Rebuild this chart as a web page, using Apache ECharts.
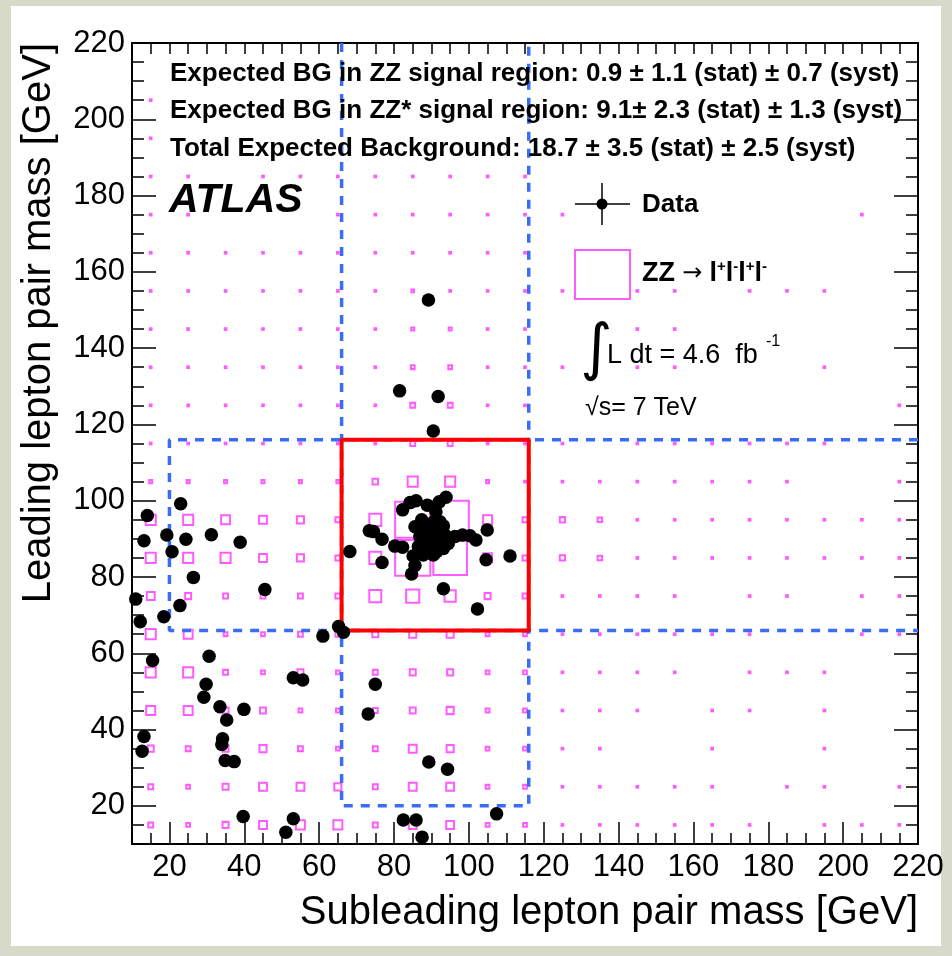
<!DOCTYPE html>
<html>
<head>
<meta charset="utf-8">
<script src="https://cdn.jsdelivr.net/npm/echarts@6/dist/echarts.min.js"></script>
<style>
  html, body { margin: 0; padding: 0; background: #d8dac9; }
  #panel { position: absolute; left: 11px; top: 6px; width: 930px; height: 940px; background: #ffffff; }
  #chart { position: absolute; left: 0; top: 0; width: 952px; height: 956px; }
</style>
</head>
<body>
<div id="panel"></div>
<div id="chart"></div>
<script>
// ---- axis ranges and ticks (GeV) ----
const massMin = 10;
const massMax = 220;
const labelValues = [20, 40, 60, 80, 100, 120, 140, 160, 180, 200, 220];
const majorTickValues = [20, 40, 60, 80, 100, 120, 140, 160, 180, 200];
const minorTickValues = [];
for (let v = 15; v <= 215; v += 5) minorTickValues.push(v);

// ---- ZZ -> 4l expectation: 10 GeV bins, relative bin content ----
const binCenters = [15, 25, 35, 45, 55, 65, 75, 85, 95, 105, 115, 125, 135, 145, 155, 165, 175, 185, 195, 205, 215];
// rows run from leading mass 215 GeV (top) down to 15 GeV (bottom); columns follow binCenters
const t = 0.045;
const zzContent = [
  /*215*/ [0, 0, 0, 0, 0, 0, 0, 0, 0, 0, 0, 0, 0, 0, 0, 0, 0, 0, 0, 0, 0],
  /*205*/ [t, 0, 0, 0, 0, 0, 0, 0, 0, 0, 0, 0, 0, 0, 0, 0, 0, 0, 0, 0, 0],
  /*195*/ [t, 0, 0, 0, 0, 0, 0, 0, 0, 0, 0, 0, 0, 0, 0, 0, 0, 0, 0, 0, 0],
  /*185*/ [t, t, 0, t, t, t, t, t, t, t, t, 0, 0, 0, 0, 0, 0, 0, 0, 0, 0],
  /*175*/ [t, t, 0, 0, 0, t, t, t, t, t, t, t, 0, 0, 0, 0, 0, 0, 0, t, 0],
  /*165*/ [t, t, t, t, t, t, t, t, t, t, t, 0, 0, 0, 0, 0, 0, 0, 0, 0, 0],
  /*155*/ [t, t, t, t, t, t, t, 0.07, t, t, t, t, 0, t, t, 0, t, t, t, 0, 0],
  /*145*/ [t, t, t, t, t, t, t, 0.08, 0.08, t, t, 0, 0, t, t, 0, 0, 0, 0, 0, 0],
  /*135*/ [t, t, t, t, t, t, t, 0.1, 0.1, t, t, t, 0, t, t, 0, 0, 0, t, 0, 0],
  /*125*/ [t, t, t, t, t, t, t, 0.13, 0.13, t, t, 0, 0, 0, 0, 0, 0, 0, 0, 0, t],
  /*115*/ [t, t, t, t, t, t, t, 0.13, 0.13, t, t, t, 0, t, t, t, t, t, t, 0, 0],
  /*105*/ [0.08, 0.08, 0.08, 0.08, 0.08, 0.08, 0.15, 0.27, 0.27, 0.08, t, t, t, t, t, t, t, t, 0, 0, t],
  /* 95*/ [0.27, 0.27, 0.24, 0.21, 0.19, 0.13, 0.32, 0.94, 1.0, 0.24, 0.13, 0.14, 0.12, t, t, t, t, t, t, t, t],
  /* 85*/ [0.27, 0.27, 0.27, 0.21, 0.19, 0.13, 0.32, 0.94, 0.9, 0.24, 0.13, 0.14, 0.12, t, t, t, t, t, t, t, t],
  /* 75*/ [0.21, 0.16, 0.13, 0.13, 0.13, 0.13, 0.32, 0.35, 0.3, 0.16, 0.13, t, t, t, t, 0, t, t, 0, t, t],
  /* 65*/ [0.27, 0.24, 0.1, 0.1, 0.13, 0.13, 0.16, 0.19, 0.19, 0.1, 0.1, t, t, t, t, t, t, 0, 0, t, t],
  /* 55*/ [0.27, 0.27, 0.13, 0.1, 0.16, 0.1, 0.13, 0.16, 0.16, 0.1, 0.1, t, t, t, t, 0, t, t, t, 0, 0],
  /* 45*/ [0.24, 0.24, 0.16, 0.16, 0.1, 0.1, 0.13, 0.16, 0.19, 0.1, 0.1, t, t, t, 0, t, t, 0, t, 0, 0],
  /* 35*/ [0.16, 0.13, 0.16, 0.19, 0.13, 0.1, 0.13, 0.21, 0.19, 0.1, 0.1, t, t, 0, 0, t, 0, 0, t, 0, 0],
  /* 25*/ [0.13, 0.1, 0.16, 0.21, 0.21, 0.19, 0.13, 0.21, 0.21, 0.1, 0.1, t, t, t, t, t, 0, t, t, 0, t],
  /* 15*/ [0.13, 0.1, 0.16, 0.21, 0.24, 0.24, 0.13, 0.21, 0.21, 0.1, 0.1, t, t, t, t, t, t, 0, t, t, t]
];

// ---- selected data events: subleading / leading lepton pair masses (GeV) ----
const subleadingMass = [
  89.2, 81.5, 91.8, 90.5,
  23.0, 14.1, 13.2, 19.3, 24.4, 20.7, 31.2, 38.9, 26.4, 45.5, 11.0, 22.8, 12.2, 18.5,
  61.0, 65.2, 66.5, 15.5, 30.6, 29.8, 29.2, 53.1, 55.6, 33.5, 35.3, 39.9, 13.2, 12.7,
  34.2, 34.0, 34.9, 37.3, 39.7, 53.1, 51.1, 75.0, 73.1, 89.3, 94.3, 82.5, 85.9, 87.5, 107.4,
  68.2, 73.4, 74.5, 76.8, 76.8, 80.2, 82.3, 82.3, 84.3, 85.9, 88.9, 91.2, 92.1, 93.9,
  104.9, 104.6, 111.0, 93.2, 102.3, 85.6, 89.6, 92.3, 86.9, 89.6, 91.8, 93.6, 86.5, 88.7,
  91.0, 93.2, 87.8, 90.5, 85.1, 85.6, 84.7, 96.3, 98.3, 100.3, 101.9, 90.3, 91.4, 88.7,
  93.2, 87.4, 90.0, 91.0, 88.0, 92.5, 89.2, 90.8, 94.5, 87.0
];
const leadingMass = [
  152.6, 128.8, 127.3, 118.3,
  99.2, 96.1, 89.5, 91.0, 89.9, 86.6, 91.1, 89.1, 79.9, 76.7, 74.2, 72.5, 68.3, 69.6,
  64.5, 67.0, 65.5, 58.1, 59.2, 51.9, 48.5, 53.6, 53.0, 46.0, 42.5, 45.3, 38.2, 34.3,
  37.6, 36.1, 31.9, 31.6, 17.2, 16.6, 13.1, 51.9, 44.1, 31.5, 29.6, 16.3, 16.3, 11.8, 17.9,
  86.7, 92.1, 91.9, 89.9, 83.8, 88.1, 87.8, 97.6, 99.5, 100.0, 98.8, 97.1, 99.7, 100.9,
  92.3, 84.5, 85.5, 76.9, 71.6, 93.2, 93.9, 94.5, 90.6, 91.0, 91.9, 91.0, 88.0, 88.0,
  88.4, 87.5, 85.8, 85.8, 85.5, 83.0, 80.8, 90.6, 91.0, 90.8, 89.7, 89.7, 86.6, 92.3,
  93.4, 95.0, 90.5, 92.8, 89.5, 89.0, 86.8, 94.6, 88.8, 92.5
];

// ---- signal region boundaries (GeV) ----
const zzLow = 66;
const zzHigh = 116;
const zzStarLow = 20;

// ---- layout ----
const plot = { left: 132, top: 43, width: 786, height: 801 };
const binPxX = 10 * plot.width / (massMax - massMin);
const binPxY = 10 * plot.height / (massMax - massMin);
const magenta = '#ff5cff';
const blue = '#3a6cf8';
const font = 'Liberation Sans';

const zzData = [];
zzContent.forEach((row, r) => {
  const yc = binCenters[binCenters.length - 1 - r];
  row.forEach((c, k) => { if (c > 0) zzData.push([binCenters[k], yc, c]); });
});
const eventData = subleadingMass.map((x, i) => [x, leadingMass[i]]);

function axisDef(kind, position, tickValues, tickLen, withLabels, withLine) {
  return {
    type: 'value', min: massMin, max: massMax, position: position,
    axisLine: { show: withLine, onZero: false, lineStyle: { color: '#000', width: 2 } },
    axisTick: { show: true, inside: true, length: tickLen, customValues: tickValues,
                lineStyle: { color: '#000', width: 1.5 } },
    axisLabel: withLabels
      ? { show: true, customValues: labelValues, color: '#000', fontSize: 31, fontFamily: font,
          margin: kind === 'x' ? 8 : 7 }
      : { show: false },
    splitLine: { show: false }
  };
}

function polyline(points, color, width, dash, z) {
  return {
    type: 'line', xAxisIndex: 0, yAxisIndex: 0, data: points, showSymbol: false, symbol: 'none',
    lineStyle: { color: color, width: width, type: dash }, z: z, silent: true, animation: false
  };
}

const chart = echarts.init(document.getElementById('chart'));
chart.setOption({
  animation: false,
  backgroundColor: 'transparent',
  grid: { left: plot.left, top: plot.top, width: plot.width, height: plot.height, containLabel: false },
  xAxis: [
    axisDef('x', 'bottom', majorTickValues, 22, true, true),
    axisDef('x', 'bottom', minorTickValues, 11, false, false),
    axisDef('x', 'top', minorTickValues, 11, false, true)
  ],
  yAxis: [
    axisDef('y', 'left', majorTickValues, 24, true, true),
    axisDef('y', 'left', minorTickValues, 12, false, false),
    axisDef('y', 'right', majorTickValues, 24, false, true),
    axisDef('y', 'right', minorTickValues, 12, false, false)
  ],
  series: [
    {
      type: 'scatter', xAxisIndex: 0, yAxisIndex: 0, data: zzData, symbol: 'rect',
      symbolSize: v => [Math.max(v[2] * binPxX, 1.5), Math.max(v[2] * binPxY, 1.5)],
      itemStyle: { color: 'rgba(0,0,0,0)', borderColor: magenta, borderWidth: 2, opacity: 1 },
      z: 2, silent: true
    },
    // ZZ* regions (blue dashed)
    polyline([[zzLow, massMax], [zzLow, zzStarLow], [zzHigh, zzStarLow], [zzHigh, massMax]], blue, 3.5, [9, 8], 3),
    polyline([[massMax, zzHigh], [zzStarLow, zzHigh], [zzStarLow, zzLow], [massMax, zzLow]], blue, 3.5, [9, 8], 3),
    // ZZ signal region (red)
    polyline([[zzLow, zzLow], [zzHigh, zzLow], [zzHigh, zzHigh], [zzLow, zzHigh], [zzLow, zzLow]], '#ff0000', 4, 'solid', 4),
    {
      type: 'scatter', xAxisIndex: 0, yAxisIndex: 0, data: eventData, symbol: 'circle', symbolSize: 13.5,
      itemStyle: { color: '#000', opacity: 1 }, z: 6, silent: true
    }
  ],
  graphic: [
    { type: 'text', x: 170, y: 74, z: 10,
      style: { text: 'Expected BG in ZZ signal region: 0.9 ± 1.1 (stat) ± 0.7 (syst)', fill: '#000',
               fontSize: 26, fontWeight: 'bold', fontFamily: font, align: 'left', verticalAlign: 'middle' } },
    { type: 'text', x: 170, y: 111, z: 10,
      style: { text: 'Expected BG in ZZ* signal region: 9.1± 2.3 (stat) ± 1.3 (syst)', fill: '#000',
               fontSize: 26, fontWeight: 'bold', fontFamily: font, align: 'left', verticalAlign: 'middle' } },
    { type: 'text', x: 170, y: 149, z: 10,
      style: { text: 'Total Expected Background: 18.7 ± 3.5 (stat) ± 2.5 (syst)', fill: '#000',
               fontSize: 26, fontWeight: 'bold', fontFamily: font, align: 'left', verticalAlign: 'middle' } },
    { type: 'text', x: 169, y: 201, z: 10,
      style: { text: 'ATLAS', fill: '#000', fontSize: 41, fontWeight: 'bold', fontStyle: 'italic',
               fontFamily: font, align: 'left', verticalAlign: 'middle' } },
    // legend: data marker
    { type: 'line', z: 10, shape: { x1: 575, y1: 204, x2: 630, y2: 204 }, style: { stroke: '#000', lineWidth: 1.5 } },
    { type: 'line', z: 10, shape: { x1: 602, y1: 183, x2: 602, y2: 225 }, style: { stroke: '#000', lineWidth: 1.5 } },
    { type: 'circle', z: 10, shape: { cx: 602, cy: 204, r: 5.5 }, style: { fill: '#000' } },
    { type: 'text', x: 642, y: 205, z: 10,
      style: { text: 'Data', fill: '#000', fontSize: 26, fontWeight: 'bold', fontFamily: font,
               align: 'left', verticalAlign: 'middle' } },
    // legend: ZZ box
    { type: 'rect', z: 10, shape: { x: 575, y: 250, width: 55, height: 49 },
      style: { fill: 'rgba(0,0,0,0)', stroke: magenta, lineWidth: 2 } },
    { type: 'text', x: 642, y: 274, z: 10,
      style: { text: '{b|ZZ} {a|→} {b|l}{s|+}{b|l}{s|-}{b|l}{s|+}{b|l}{s|-}', fill: '#000', fontFamily: font,
               fontSize: 26, align: 'left', verticalAlign: 'middle',
               rich: {
                 b: { fontSize: 27, fontWeight: 'bold', fontFamily: font, fill: '#000', lineHeight: 30 },
                 a: { fontSize: 24, fontFamily: 'DejaVu Sans', fill: '#000', lineHeight: 30 },
                 s: { fontSize: 15, fontWeight: 'bold', fontFamily: font, fill: '#000', verticalAlign: 'top', lineHeight: 14 }
               } } },
    // luminosity and energy
    { type: 'text', x: 580, y: 352, z: 10,
      style: { text: '∫', fill: '#000', fontSize: 62, fontFamily: 'DejaVu Sans', align: 'left', verticalAlign: 'middle' } },
    { type: 'text', x: 607, y: 356, z: 10,
      style: { text: 'L dt = 4.6  fb', fill: '#000', fontSize: 27, fontFamily: font, align: 'left', verticalAlign: 'middle' } },
    { type: 'text', x: 766, y: 342, z: 10,
      style: { text: '-1', fill: '#000', fontSize: 16, fontFamily: font, align: 'left', verticalAlign: 'middle' } },
    { type: 'text', x: 585, y: 408, z: 10,
      style: { text: '√s= 7 TeV', fill: '#000', fontSize: 25, fontFamily: font, align: 'left', verticalAlign: 'middle' } },
    // axis titles
    { type: 'text', x: 918, y: 913, z: 10,
      style: { text: 'Subleading lepton pair mass [GeV]', fill: '#000', fontSize: 40, fontFamily: font,
               align: 'right', verticalAlign: 'middle' } },
    { type: 'text', x: 39, y: 43, rotation: Math.PI / 2, z: 10,
      style: { text: 'Leading lepton pair mass [GeV]', fill: '#000', fontSize: 40, fontFamily: font,
               align: 'right', verticalAlign: 'middle' } }
  ]
});
</script>
</body>
</html>
